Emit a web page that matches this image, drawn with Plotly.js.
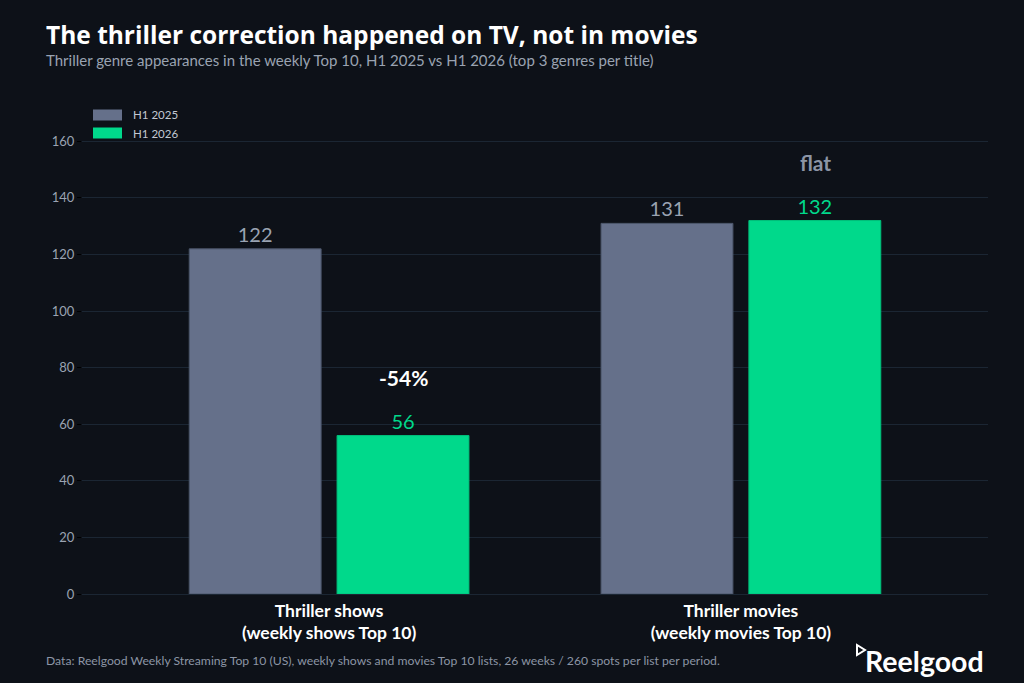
<!DOCTYPE html>
<html>
<head>
<meta charset="utf-8">
<script src="https://cdn.plot.ly/plotly-3.0.1.min.js"></script>
<style>html,body{margin:0;padding:0;background:#0d1118;}#chart{width:1024px;height:683px;}</style>
</head>
<body>
<div id="chart"></div>
<script>
const categories = ["Thriller shows<br>(weekly shows Top 10)", "Thriller movies<br>(weekly movies Top 10)"];
const seriesNames = ["H1 2025", "H1 2026"];
const seriesColors = ["#65708a", "#00d98b"];
const valuesH1_2025 = [122, 131];
const valuesH1_2026 = [56, 132];
const changeLabels = ["-54%", "flat"];
const changeColors = ["#ffffff", "#8c95a5"];
const yTicks = [0, 20, 40, 60, 80, 100, 120, 140, 160];

const FONT = "Lato, 'Open Sans', sans-serif";
const TFONT = "'Open Sans', Lato, sans-serif";
const xIdx = categories.map((_, i) => i);

// plot area geometry (pixels) used to place paper-referenced texts
const PL = 82, PW = 906, PB = 594, PH = 464;
const px = x => (x - PL) / PW;
const py = y => (PB - y) / PH;

const trace2025 = {
  type: "bar", name: seriesNames[0], x: xIdx, y: valuesH1_2025,
  marker: {color: seriesColors[0], line: {color: "#4c566a", width: 1}},
  text: valuesH1_2025.map(String), textposition: "outside", cliponaxis: false,
  textfont: {family: FONT, size: 20, color: "#9aa3b2"}, hoverinfo: "skip"
};
const trace2026 = {
  type: "bar", name: seriesNames[1], x: xIdx, y: valuesH1_2026,
  marker: {color: seriesColors[1], line: {color: "#00c07b", width: 1}},
  text: valuesH1_2026.map(String), textposition: "outside", cliponaxis: false,
  textfont: {family: FONT, size: 20, color: "#00d98b"}, hoverinfo: "skip"
};

const annotations = changeLabels.map((t, i) => ({
  xref: "x", yref: "y", x: i + 0.18, y: valuesH1_2026[i] + 20.5,
  text: "<b>" + t + "</b>", showarrow: false,
  font: {family: FONT, size: 21, color: changeColors[i]}
}));
annotations.push({
  xref: "paper", yref: "paper", x: px(44), y: py(60), xanchor: "left", yanchor: "middle",
  text: "Thriller genre appearances in the weekly Top 10, H1 2025 vs H1 2026 (top 3 genres per title)",
  showarrow: false, font: {family: FONT, size: 15, color: "#9aa3b2"}
});
annotations.push({
  xref: "paper", yref: "paper", x: px(44), y: py(660), xanchor: "left", yanchor: "middle",
  text: "Data: Reelgood Weekly Streaming Top 10 (US), weekly shows and movies Top 10 lists, 26 weeks / 260 spots per list per period.",
  showarrow: false, font: {family: FONT, size: 12.2, color: "#8c95a5"}
});
annotations.push({
  xref: "paper", yref: "paper", x: px(986), y: py(661), xanchor: "right", yanchor: "middle",
  text: "<b>Reelgood</b>", showarrow: false, font: {family: FONT, size: 28.5, color: "#ffffff"}
});

// legend (drawn as swatches + labels, matching the reference's wide swatches)
const shapes = [];
seriesNames.forEach((n, i) => {
  const cy = 115 + i * 18;
  shapes.push({type: "rect", xref: "paper", yref: "paper",
    x0: px(93), x1: px(122), y0: py(cy - 5.5), y1: py(cy + 5.5),
    fillcolor: seriesColors[i], line: {width: 0}});
  annotations.push({xref: "paper", yref: "paper", x: px(131), y: py(cy), xanchor: "left", yanchor: "middle",
    text: n, showarrow: false, font: {family: FONT, size: 11.5, color: "#c2c8d2"}});
});
shapes.push({type: "path", xref: "paper", yref: "paper",
  path: "M " + px(857) + " " + py(645) + " L " + px(857) + " " + py(655) + " L " + px(865) + " " + py(650) + " Z",
  line: {color: "#ffffff", width: 2}});

const layout = {
  width: 1024, height: 683,
  paper_bgcolor: "#0d1118", plot_bgcolor: "#0d1118",
  margin: {l: PL, r: 1024 - PL - PW, t: PB - PH, b: 683 - PB},
  title: {text: "<b>The thriller correction happened on TV, not in movies</b>",
    x: 46/1024, xanchor: "left", y: 1 - 35/683, yanchor: "middle",
    font: {family: TFONT, size: 24.5, color: "#ffffff"}},
  barmode: "group", bargap: 0.282, bargroupgap: 0.108,
  showlegend: false,
  xaxis: {tickvals: xIdx, ticktext: categories, range: [-0.6, 1.6],
    showgrid: false, zeroline: false, showline: false, ticks: "", ticklabelstandoff: 4,
    tickfont: {family: FONT, size: 17.5, color: "#ffffff", weight: "bold"}, fixedrange: true},
  yaxis: {range: [0, 164], tickvals: yTicks, showgrid: true, gridcolor: "#1b2633", gridwidth: 1,
    zeroline: true, zerolinecolor: "#1b2633", showline: false,
    ticks: "outside", ticklen: 4, tickcolor: "#000000",
    tickfont: {family: FONT, size: 13, color: "#9aa3b2"}, fixedrange: true},
  annotations: annotations,
  shapes: shapes
};

Plotly.newPlot("chart", [trace2025, trace2026], layout, {displayModeBar: false, staticPlot: true});
</script>
</body>
</html>
